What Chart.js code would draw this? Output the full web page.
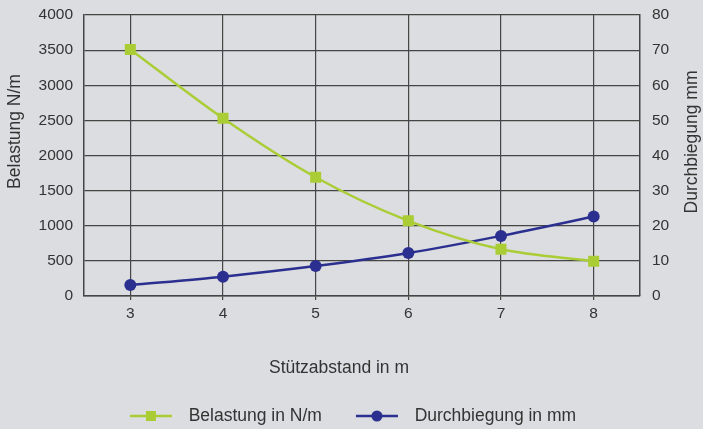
<!DOCTYPE html>
<html>
<head>
<meta charset="utf-8">
<script src="https://cdn.jsdelivr.net/npm/chart.js@4.4.0/dist/chart.umd.min.js"></script>
<style>
  html, body { margin: 0; padding: 0; background: #fff; }
  #wrap { width: 703px; height: 429px; }
</style>
</head>
<body>
<div id="wrap"><canvas id="c"></canvas></div>
<script>
// data
const stuetzabstand = ['3', '4', '5', '6', '7', '8'];
const belastung = [3510, 2530, 1690, 1070, 665, 495];      // N/m
const durchbiegung = [3.1, 5.5, 8.5, 12.2, 17.1, 22.6];    // mm

const seriesNames = ['Belastung in N/m', 'Durchbiegung in mm'];
const xTitle = 'Stützabstand in m';
const yLeftTitle = 'Belastung N/m';
const yRightTitle = 'Durchbiegung mm';

const gruen = '#aacd36';
const blau = '#2b2f8f';
const grau = '#dcdde0';
const textFarbe = '#333333';
const gitter = '#454545';
const font = '"Liberation Sans", Arial, sans-serif';

// legend icon: line with marker in the middle
function legendIcon(color, style) {
    const cv = document.createElement('canvas');
    cv.width = 78;
    cv.height = 14;
    const c = cv.getContext('2d');
    c.strokeStyle = color;
    c.lineWidth = 2.5;
    c.beginPath();
    c.moveTo(28, 7);
    c.lineTo(70, 7);
    c.stroke();
    c.fillStyle = color;
    if (style === 'rect') {
        c.fillRect(44, 2, 10, 10);
    } else {
        c.beginPath();
        c.arc(49, 7, 5.5, 0, Math.PI * 2);
        c.fill();
    }
    return cv;
}
const legendIcons = [legendIcon(gruen, 'rect'), legendIcon(blau, 'circle')];

const bgPlugin = {
    id: 'bg',
    beforeDraw(chart) {
        const ctx = chart.ctx;
        ctx.save();
        ctx.fillStyle = grau;
        ctx.fillRect(0, 0, chart.width, chart.height);
        ctx.restore();
    }
};

// vertical axis titles (both read bottom to top)
const axisTitles = {
    id: 'axisTitles',
    afterDraw(chart) {
        const ctx = chart.ctx;
        ctx.save();
        ctx.fillStyle = textFarbe;
        ctx.font = '17.5px ' + font;
        ctx.textAlign = 'center';
        ctx.textBaseline = 'middle';
        ctx.translate(15.5, 131.5);
        ctx.rotate(-Math.PI / 2);
        ctx.fillText(yLeftTitle, 0, 0);
        ctx.restore();
        ctx.save();
        ctx.fillStyle = textFarbe;
        ctx.font = '17.5px ' + font;
        ctx.textAlign = 'center';
        ctx.textBaseline = 'middle';
        ctx.translate(692.5, 142);
        ctx.rotate(-Math.PI / 2);
        ctx.fillText(yRightTitle, 0, 0);
        ctx.restore();
    }
};

// fixed axis sizes, no extra label padding above/below
function fixWidth(w) {
    return (s) => {
        s.width = w;
        s.paddingTop = 0;
        s.paddingBottom = 0;
    };
}

new Chart(document.getElementById('c'), {
    type: 'line',
    data: {
        labels: stuetzabstand,
        datasets: [{
            label: seriesNames[0],
            data: belastung,
            yAxisID: 'y',
            borderColor: gruen,
            backgroundColor: gruen,
            borderWidth: 2.5,
            tension: 0.3,
            pointStyle: 'rect',
            pointRadius: 7.8,
            pointBorderWidth: 0
        }, {
            label: seriesNames[1],
            data: durchbiegung,
            yAxisID: 'y1',
            borderColor: blau,
            backgroundColor: blau,
            borderWidth: 2.5,
            tension: 0.3,
            pointStyle: 'circle',
            pointRadius: 6,
            pointBorderWidth: 0
        }]
    },
    options: {
        responsive: true,
        maintainAspectRatio: false,
        animation: false,
        layout: { padding: { top: 15, left: 0, right: 25, bottom: 0 } },
        plugins: {
            tooltip: { enabled: false },
            title: {
                display: true,
                text: xTitle,
                position: 'bottom',
                weight: 500,
                color: textFarbe,
                font: { family: font, size: 17.5, weight: 'normal' },
                padding: { top: 21.5, bottom: 22.8 }
            },
            legend: {
                position: 'bottom',
                maxHeight: 27.75,
                labels: {
                    usePointStyle: true,
                    pointStyleWidth: 78,
                    padding: 6,
                    color: textFarbe,
                    font: { family: font, size: 17.5 },
                    generateLabels: (chart) => Chart.defaults.plugins.legend.labels.generateLabels(chart)
                        .map((item, i) => ({ ...item, pointStyle: legendIcons[i] }))
                }
            }
        },
        scales: {
            x: {
                offset: true,
                afterFit: (s) => { s.height = 40; },
                grid: { color: gitter, lineWidth: 1.2, tickLength: 4, offset: false },
                border: { color: gitter, width: 1.5 },
                ticks: { color: textFarbe, font: { family: font, size: 15.5 }, padding: 4 }
            },
            y: {
                position: 'left',
                min: 0,
                max: 4000,
                afterFit: fixWidth(84),
                grid: { color: gitter, lineWidth: 1.2, drawTicks: false },
                border: { color: gitter, width: 1.5 },
                ticks: {
                    stepSize: 500,
                    padding: 11,
                    color: textFarbe,
                    font: { family: font, size: 15.5 },
                    callback: (v) => String(v)
                }
            },
            y1: {
                position: 'right',
                min: 0,
                max: 80,
                afterFit: fixWidth(38),
                grid: { drawOnChartArea: false, drawTicks: false },
                border: { color: gitter, width: 1.5 },
                ticks: {
                    stepSize: 10,
                    padding: 12,
                    color: textFarbe,
                    font: { family: font, size: 15.5 },
                    callback: (v) => String(v)
                }
            }
        }
    },
    plugins: [bgPlugin, axisTitles]
});
</script>
</body>
</html>
